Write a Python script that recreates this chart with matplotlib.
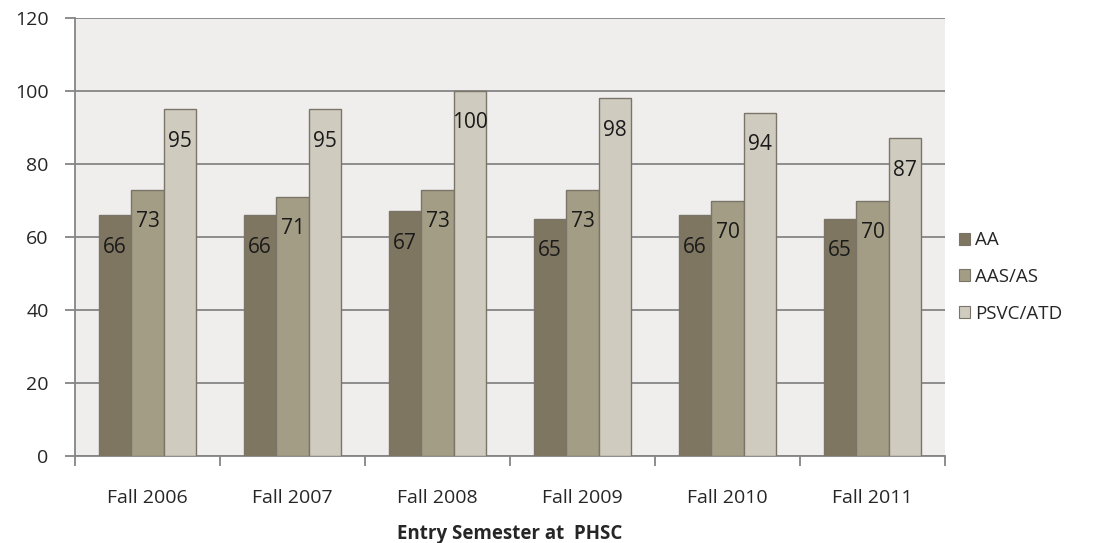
import numpy as np
import matplotlib
matplotlib.use("Agg")
import matplotlib.pyplot as plt
from matplotlib.patches import Patch

# data
semesters = ["Fall 2006", "Fall 2007", "Fall 2008", "Fall 2009", "Fall 2010", "Fall 2011"]
series_names = ["AA", "AAS/AS", "PSVC/ATD"]
aa = [66, 66, 67, 65, 66, 65]
aas = [73, 71, 73, 73, 70, 70]
psvc = [95, 95, 100, 98, 94, 87]
y_ticks = [0, 20, 40, 60, 80, 100, 120]

colors = ["#7e7661", "#a49d85", "#cfcbbf"]
edge = "#7a7568"

plt.rcParams['font.family'] = ['Open Sans', 'DejaVu Sans']

fig = plt.figure(figsize=(11.19, 5.43), dpi=100)
ax = fig.add_axes([75/1119, 87/543, 870/1119, 438/543])
ax.set_facecolor("#efeeec")

x = np.arange(len(semesters))
w = 0.225
for i, (vals, c) in enumerate(zip([aa, aas, psvc], colors)):
    bars = ax.bar(x + (i - 1) * w, vals, w, color=c, edgecolor=edge, linewidth=1.0, zorder=3)
    for b, v in zip(bars, vals):
        ax.annotate(str(v), (b.get_x() + b.get_width() / 2, v), xytext=(0, -23),
                    textcoords="offset points", ha="center", va="center",
                    fontsize=15, color="#1a1a1a", zorder=4)

ax.set_xlim(-0.5, len(semesters) - 0.5)
ax.set_ylim(0, 120)
ax.set_yticks(y_ticks)
ax.yaxis.grid(True, color="#858585", linewidth=1.3, zorder=0)
ax.set_axisbelow(True)

# category-boundary ticks on x
ax.set_xticks(np.arange(-0.5, len(semesters)), minor=False)
ax.set_xticklabels([])
ax.set_xticks(x, minor=True)
ax.set_xticklabels(semesters, minor=True, fontsize=14, color="#262626")
ax.tick_params(axis="x", which="minor", length=0, pad=24)
ax.tick_params(axis="x", which="major", length=7, color="#858585", width=1.3)
ax.tick_params(axis="y", length=7, color="#858585", width=1.3, labelsize=14,
               labelcolor="#262626", pad=12)

for s in ["top", "right"]:
    ax.spines[s].set_visible(False)
for s in ["left", "bottom"]:
    ax.spines[s].set_color("#858585")
    ax.spines[s].set_linewidth(1.3)

ax.set_xlabel("Entry Semester at  PHSC", fontsize=13.5, fontweight="bold",
              color="#262626", labelpad=12)

handles = [Patch(facecolor=c, edgecolor=edge, linewidth=0.8) for c in colors]
fig.legend(handles, series_names, loc="center left", bbox_to_anchor=(942/1119, 1 - 277/543),
           frameon=False, fontsize=13.5, handlelength=0.6, handleheight=0.6,
           handletextpad=0.25, labelspacing=1.0, labelcolor="#262626")

fig.savefig("out.png", dpi=100)
